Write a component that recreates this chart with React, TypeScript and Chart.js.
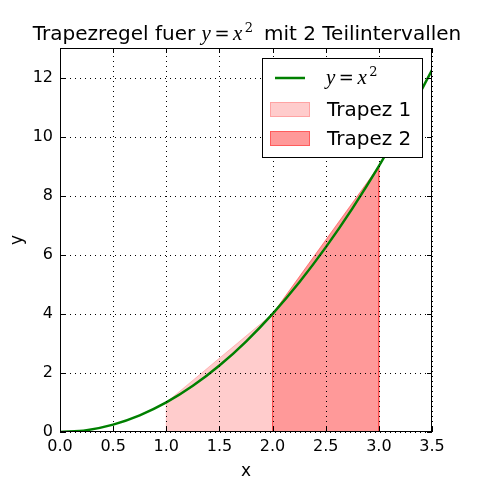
import React, { useEffect, useRef } from "react";
import { Chart, registerables } from "chart.js";

Chart.register(...registerables);

const curveX = [0, 0.25, 0.5, 0.75, 1, 1.25, 1.5, 1.75, 2, 2.25, 2.5, 2.75, 3, 3.25, 3.5];
const curveY = [0, 0.0625, 0.25, 0.5625, 1, 1.5625, 2.25, 3.0625, 4, 5.0625, 6.25, 7.5625, 9, 10.5625, 12.25];

const trap1X = [1, 1, 2, 2];
const trap1Y = [0, 1, 4, 0];
const trap2X = [2, 2, 3, 3];
const trap2Y = [0, 4, 9, 0];

const xTicks = [0, 0.5, 1, 1.5, 2, 2.5, 3, 3.5];
const xTickLabels = ["0.0", "0.5", "1.0", "1.5", "2.0", "2.5", "3.0", "3.5"];
const yTicks = [0, 2, 4, 6, 8, 10, 12];
const yTickLabels = ["0", "2", "4", "6", "8", "10", "12"];

const legendLabels = ["Trapez 1", "Trapez 2"];

const SANS = "'DejaVu Sans', sans-serif";
const ITAL = "italic 21px 'Liberation Serif', 'DejaVu Serif', serif";
const UPR = "18px 'DejaVu Serif', serif";
const SUP = "13px 'DejaVu Serif', serif";

function drawMath(ctx: CanvasRenderingContext2D, x: number, baseline: number, measureOnly = false): number {
  // renders "y = x^2"
  const parts: { t: string; font: string; dy: number; post: number }[] = [
    { t: "y", font: ITAL, dy: 0, post: 3.5 },
    { t: "=", font: UPR, dy: 0, post: 3.5 },
    { t: "x", font: ITAL, dy: 0, post: 2.5 },
    { t: "2", font: SUP, dy: -8, post: 4.5 },
  ];
  let cx = x;
  for (const p of parts) {
    ctx.font = p.font;
    if (!measureOnly) ctx.fillText(p.t, cx, baseline + p.dy);
    cx += ctx.measureText(p.t).width + p.post;
  }
  return cx - x;
}

const gridPlugin = {
  id: "dottedGrid",
  afterDatasetsDraw(chart: any) {
    const ctx: CanvasRenderingContext2D = chart.ctx;
    const { left, right, top, bottom } = chart.chartArea;
    const xs = chart.scales.x;
    const ys = chart.scales.y;
    ctx.save();
    ctx.strokeStyle = "#000";
    ctx.lineWidth = 1;
    ctx.setLineDash([1, 4]);
    ctx.beginPath();
    for (const v of xTicks) {
      const px = Math.round(xs.getPixelForValue(v)) + 0.5;
      ctx.moveTo(px, bottom);
      ctx.lineTo(px, top);
    }
    for (const v of yTicks) {
      const py = Math.round(ys.getPixelForValue(v)) + 0.5;
      ctx.moveTo(left, py);
      ctx.lineTo(right, py);
    }
    ctx.stroke();
    ctx.restore();
  },
};

const decorPlugin = {
  id: "decor",
  afterDraw(chart: any) {
    const ctx: CanvasRenderingContext2D = chart.ctx;
    const { left, right, top, bottom } = chart.chartArea;
    const xs = chart.scales.x;
    const ys = chart.scales.y;
    ctx.save();
    ctx.fillStyle = "#000";
    ctx.strokeStyle = "#000";
    ctx.textAlign = "left";
    ctx.textBaseline = "alphabetic";

    // frame
    ctx.lineWidth = 1;
    ctx.strokeRect(left + 0.5, top + 0.5, right - left - 1, bottom - top - 1);

    // inward ticks
    const tl = 5;
    ctx.beginPath();
    for (const v of xTicks) {
      const px = Math.round(xs.getPixelForValue(v)) + 0.5;
      ctx.moveTo(px, bottom);
      ctx.lineTo(px, bottom - tl);
      ctx.moveTo(px, top);
      ctx.lineTo(px, top + tl);
    }
    for (const v of yTicks) {
      const py = Math.round(ys.getPixelForValue(v)) + 0.5;
      ctx.moveTo(left, py);
      ctx.lineTo(left + tl, py);
      ctx.moveTo(right, py);
      ctx.lineTo(right - tl, py);
    }
    ctx.stroke();

    // title
    const t1 = "Trapezregel fuer ";
    const t2 = " mit 2 Teilintervallen";
    ctx.font = `20px ${SANS}`;
    const w1 = ctx.measureText(t1).width;
    const w2 = ctx.measureText(t2).width;
    const wm = drawMath(ctx, 0, 0, true);
    const total = w1 + wm + w2;
    let tx = (left + right) / 2 - total / 2 + 1;
    const tb = 40;
    ctx.font = `20px ${SANS}`;
    ctx.fillText(t1, tx, tb);
    tx += w1;
    tx += drawMath(ctx, tx, tb);
    ctx.font = `20px ${SANS}`;
    ctx.fillText(t2, tx, tb);

    // axis labels
    ctx.font = `17px ${SANS}`;
    ctx.textAlign = "center";
    ctx.fillText("x", (left + right) / 2, 476);
    ctx.save();
    ctx.translate(22, (top + bottom) / 2);
    ctx.rotate(-Math.PI / 2);
    ctx.fillText("y", 0, 0);
    ctx.restore();

    // legend
    ctx.textAlign = "left";
    const lx = 262.5, ly = 58.5, lw = 160, lh = 99;
    ctx.fillStyle = "#fff";
    ctx.fillRect(lx, ly, lw, lh);
    ctx.strokeStyle = "#000";
    ctx.lineWidth = 1;
    ctx.strokeRect(lx, ly, lw, lh);

    ctx.strokeStyle = "#008000";
    ctx.lineWidth = 2.5;
    ctx.beginPath();
    ctx.moveTo(275, 78);
    ctx.lineTo(305, 78);
    ctx.stroke();
    ctx.fillStyle = "#000";
    drawMath(ctx, 326, 84);

    const fills = ["rgba(255,0,0,0.2)", "rgba(255,0,0,0.4)"];
    const rowsY = [102, 131];
    ctx.lineWidth = 1;
    legendLabels.forEach((lab, i) => {
      ctx.fillStyle = fills[i];
      ctx.fillRect(270, rowsY[i], 40, 15);
      ctx.strokeStyle = fills[i];
      ctx.strokeRect(270.5, rowsY[i] + 0.5, 39, 14);
      ctx.fillStyle = "#000";
      ctx.font = `20px ${SANS}`;
      ctx.fillText(lab, 327, rowsY[i] + 14);
    });
    ctx.restore();
  },
};

export default function App() {
  const ref = useRef<HTMLCanvasElement | null>(null);
  useEffect(() => {
    if (!ref.current) return;
    const pts = (xa: number[], ya: number[]) => xa.map((x, i) => ({ x, y: ya[i] }));
    const chart = new Chart(ref.current, {
      type: "line",
      data: {
        datasets: [
          {
            label: "y=x^2",
            data: pts(curveX, curveY),
            borderColor: "#008000",
            borderWidth: 2.5,
            pointRadius: 0,
            fill: false,
            cubicInterpolationMode: "monotone",
            order: 0,
          },
          {
            label: legendLabels[0],
            data: pts(trap1X, trap1Y),
            borderColor: "rgba(255,0,0,0.2)",
            backgroundColor: "rgba(255,0,0,0.2)",
            borderWidth: 1,
            pointRadius: 0,
            fill: "origin",
            tension: 0,
            order: 2,
          },
          {
            label: legendLabels[1],
            data: pts(trap2X, trap2Y),
            borderColor: "rgba(255,0,0,0.4)",
            backgroundColor: "rgba(255,0,0,0.4)",
            borderWidth: 1,
            pointRadius: 0,
            fill: "origin",
            tension: 0,
            order: 1,
          },
        ],
      },
      options: {
        animation: false,
        responsive: false,
        devicePixelRatio: 1,
        layout: { padding: { top: 48, right: 48, left: 0, bottom: 0 } },
        plugins: { legend: { display: false }, tooltip: { enabled: false }, title: { display: false } },
        scales: {
          x: {
            type: "linear",
            min: 0,
            max: 3.5,
            afterBuildTicks: (s: any) => {
              s.ticks = xTicks.map((v) => ({ value: v }));
            },
            afterFit: (s: any) => {
              s.height = 48;
            },
            ticks: {
              callback: (_v: any, i: number) => xTickLabels[i],
              font: { family: "DejaVu Sans", size: 16 },
              color: "#000",
              padding: 5,
              maxRotation: 0,
              autoSkip: false,
            },
            grid: { display: false, drawTicks: false },
            border: { display: false },
          },
          y: {
            type: "linear",
            min: 0,
            max: 13,
            afterBuildTicks: (s: any) => {
              s.ticks = yTicks.map((v) => ({ value: v }));
            },
            afterFit: (s: any) => {
              s.width = 60;
            },
            ticks: {
              callback: (_v: any, i: number) => yTickLabels[i],
              font: { family: "DejaVu Sans", size: 16 },
              color: "#000",
              padding: 7,
              autoSkip: false,
            },
            grid: { display: false, drawTicks: false },
            border: { display: false },
          },
        },
      },
      plugins: [gridPlugin, decorPlugin],
    } as any);
    return () => chart.destroy();
  }, []);
  return (
    <div style={{ position: "absolute", left: 0, top: 0, width: 480, height: 480, background: "#fff" }}>
      <canvas ref={ref} width={480} height={480} style={{ width: 480, height: 480 }} />
    </div>
  );
}
